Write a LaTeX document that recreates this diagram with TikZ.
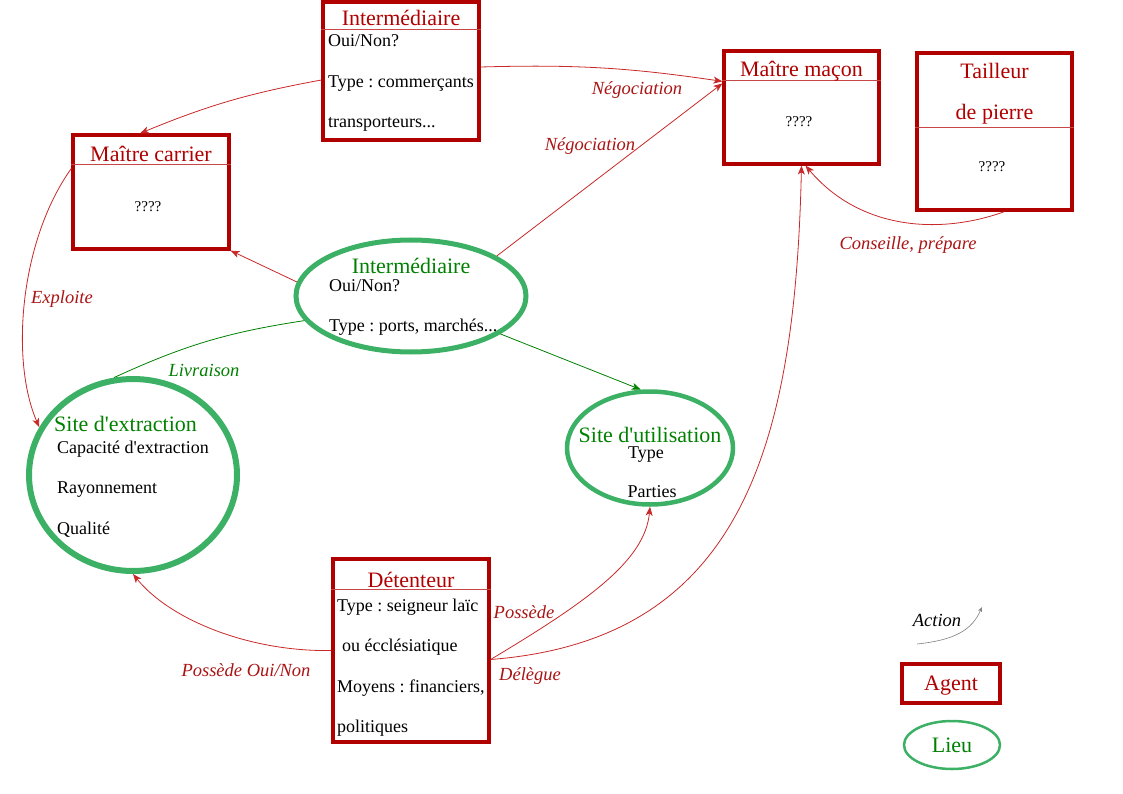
\documentclass[tikz,border=0pt]{standalone}
\usepackage{fontspec}
\setmainfont{Liberation Serif}
\usetikzlibrary{arrows.meta,shapes.geometric,calc}
\definecolor{agentred}{RGB}{176,0,0}
\definecolor{divred}{RGB}{200,70,70}
\definecolor{linkred}{RGB}{200,40,40}
\definecolor{textred}{RGB}{170,20,20}
\definecolor{lieugreen}{RGB}{60,176,100}
\definecolor{textgreen}{RGB}{0,128,0}
\newcommand{\fsz}[1]{\fontsize{#1}{#1}\selectfont}
\newcommand{\apos}{\textquotesingle}
\frenchspacing
\begin{document}
\begin{tikzpicture}[x=1pt,y=-1pt,
 agentbox/.style={draw=agentred, line width=3.2pt, rectangle, inner sep=0pt},
 lieuell/.style={draw=lieugreen, line width=5pt, ellipse, inner sep=0pt},
 divline/.style={draw=divred, line width=1.6pt},
 ttl/.style={text=agentred, font=\fsz{22}, anchor=base, inner sep=0pt},
 gttl/.style={text=textgreen, font=\fsz{22}, anchor=base, inner sep=0pt},
 body/.style={text=black, font=\fsz{18}, anchor=base west, inner sep=0pt},
 cbody/.style={text=black, font=\fsz{18}, anchor=base, inner sep=0pt},
 qm/.style={font=\fsz{15}, anchor=base, inner sep=0pt},
 lab/.style={text=textred, font=\itshape\fsz{18.5}, anchor=base, inner sep=0pt},
 glab/.style={text=textgreen, font=\itshape\fsz{18.5}, anchor=base, inner sep=0pt},
 link/.style={draw=linkred, line width=0.8pt, -{Stealth[length=9pt,width=7pt,inset=2.5pt]}},
 glink/.style={draw=textgreen, line width=0.8pt, -{Stealth[length=9pt,width=7pt,inset=2.5pt]}},
]
\useasboundingbox (0,0) rectangle (1123,794);

% ---------- Agents (boxes)
\node[agentbox, minimum width=156pt, minimum height=138pt] (ib) at (401,71) {};
\draw[divline] ([yshift=-29pt]ib.north west) -- ([yshift=-29pt]ib.north east);
\node[ttl] (ibt) at (401,26) {Intermédiaire};
\node[body] (ib1) at (328,47) {Oui/Non?};
\node[body] (ib2) at (328,88) {Type : commerçants};
\node[body] (ib3) at (328,128) {transporteurs...};

\node[agentbox, minimum width=155pt, minimum height=113pt] (mm) at (801.5,107.5) {};
\draw[divline] ([yshift=-31pt]mm.north west) -- ([yshift=-31pt]mm.north east);
\node[ttl] (mmt) at (801.5,77) {Maître maçon};
\node[qm] (mmq) at (799,127) {????};

\node[agentbox, minimum width=155pt, minimum height=157pt] (tp) at (994.5,131.5) {};
\draw[divline] ([yshift=-76pt]tp.north west) -- ([yshift=-76pt]tp.north east);
\node[ttl] (tpt1) at (994.5,79) {Tailleur};
\node[ttl] (tpt2) at (994.5,120) {de pierre};
\node[qm] (tpq) at (992,172) {????};

\node[agentbox, minimum width=156pt, minimum height=114pt] (mca) at (151,192) {};
\draw[divline] ([yshift=-31pt]mca.north west) -- ([yshift=-31pt]mca.north east);
\node[ttl] (mcat) at (151,162) {Maître carrier};
\node[qm] (mcaq) at (148,212) {????};

\node[agentbox, minimum width=156pt, minimum height=183pt] (det) at (411,650.5) {};
\draw[divline] ([yshift=-32pt]det.north west) -- ([yshift=-32pt]det.north east);
\node[ttl] (dett) at (411,587) {Détenteur};
\node[body] (det1) at (337,611) {Type : seigneur laïc};
\node[body] (det2) at (342,651) {ou écclésiatique};
\node[body] (det3) at (337,692) {Moyens : financiers,};
\node[body] (det4) at (337,732) {politiques};

% ---------- Lieux (ellipses)
\node[lieuell, minimum width=230pt, minimum height=112pt] (ie) at (411,296) {};
\node[gttl] (iet) at (411,273) {Intermédiaire};
\node[body] (ie1) at (329,291) {Oui/Non?};
\node[body] (ie2) at (329,331) {Type : ports, marchés...};

\node[lieuell, line width=6pt, minimum width=208pt, minimum height=192pt] (se) at (133,475) {};
\node[gttl, anchor=base west] (set) at (54,431) {Site d\apos extraction};
\node[body] (se1) at (57,453) {Capacité d\apos extraction};
\node[body] (se2) at (57,493) {Rayonnement};
\node[body] (se3) at (57,534) {Qualité};

\node[lieuell, line width=4.5pt, minimum width=166pt, minimum height=113pt] (su) at (650,448) {};
\node[gttl] (sut) at (650,442) {Site d\apos utilisation};
\node[cbody] (su1) at (646,458) {Type};
\node[cbody] (su2) at (652,497) {Parties};

% ---------- Connectors
\draw[link] ([yshift=-9pt]ib.west) to[bend right=6] ([xshift=-11pt]mca.north);
\draw[link] ([yshift=4pt]ib.east) to[bend left=5] ([yshift=-32pt]mm.north west);
\draw[link] (ie.25) -- ([yshift=-34pt]mm.north west);
\draw[link] (ie.173) -- (mca.south east);
\draw[link] ([yshift=-35pt]mca.north west) .. controls (20,240) and (10,360) .. (se.153);
\draw[draw=textgreen, line width=0.8pt] (ie.193) to[bend right=8] (se.101);
\draw[glink] (ie.-23) -- (su.99);
\draw[link] ([xshift=10pt]tp.south) .. controls (940,235) and (860,230) .. ([xshift=4pt]mm.south);
\draw[link] (det.west) .. controls (250,652) and (170,620) .. (se.south);
\draw[link] ([yshift=-9pt]det.east) .. controls (590,600) and (645,560) .. (su.south);
\draw[link] ([yshift=-9pt]det.east) .. controls (740,640) and (795,450) .. (mm.south);

% ---------- Labels
\node[lab] (l1) at (637,95) {Négociation};
\node[lab] (l2) at (590,151) {Négociation};
\node[lab] (l3) at (62,303) {Exploite};
\node[glab] (l4) at (204,376) {Livraison};
\node[lab] (l5) at (908,250) {Conseille, prépare};
\node[lab] (l6) at (246,676) {Possède Oui/Non};
\node[lab] (l7) at (524,618) {Possède};
\node[lab] (l8) at (530,680) {Délègue};

% ---------- Legend
\node[lab, text=black] (lact) at (937,626) {Action};
\coordinate (a1) at (917,644);
\coordinate (a2) at (982,607);
\draw[draw=gray, line width=0.6pt, -{Stealth[length=5pt,width=4pt,inset=1.5pt]}] (a1) .. controls (955,640) and (972,630) .. (a2);
\node[agentbox, minimum width=98pt, minimum height=39pt] (lag) at (951,683.5) {};
\node[ttl] (lagt) at (951,690) {Agent};
\node[lieuell, line width=2.5pt, minimum width=96pt, minimum height=48pt] (lli) at (952,745) {};
\node[gttl] (llit) at (952,752) {Lieu};
\end{tikzpicture}
\end{document}
